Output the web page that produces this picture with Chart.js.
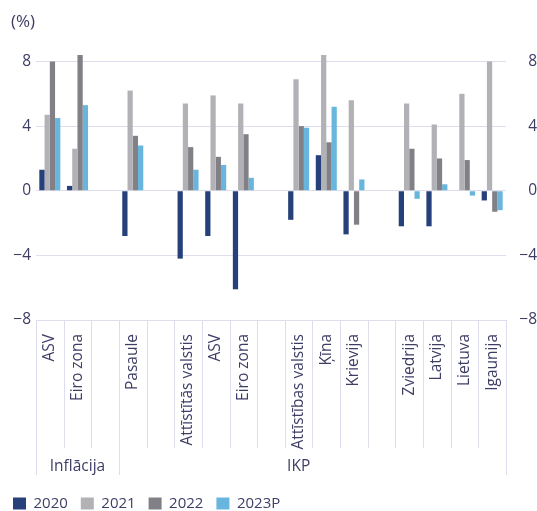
<!DOCTYPE html>
<html>
<head>
<meta charset="utf-8">
<script src="https://cdn.jsdelivr.net/npm/chart.js@4/dist/chart.umd.min.js"></script>
<style>
  html, body { margin: 0; padding: 0; background: #ffffff; }
  #wrap { width: 537px; height: 511px; position: relative; }
</style>
</head>
<body>
<div id="wrap"><canvas id="c" width="537" height="511"></canvas></div>
<script>
// ---- data ----
const categories = ['ASV', 'Eiro zona', '', 'Pasaule', '', 'Attīstītās valstis', 'ASV', 'Eiro zona', '',
  'Attīstības valstis', 'Ķīna', 'Krievija', '', 'Zviedrija', 'Latvija', 'Lietuva', 'Igaunija'];
const seriesNames = ['2020', '2021', '2022', '2023P'];
const values2020  = [1.3, 0.3, null, -2.8, null, -4.2, -2.8, -6.1, null, -1.8, 2.2, -2.7, null, -2.2, -2.2, 0, -0.6];
const values2021  = [4.7, 2.6, null,  6.2, null,  5.4,  5.9,  5.4, null,  6.9, 8.4,  5.6, null,  5.4,  4.1, 6.0, 8.0];
const values2022  = [8.0, 8.4, null,  3.4, null,  2.7,  2.1,  3.5, null,  4.0, 3.0, -2.1, null,  2.6,  2.0, 1.9, -1.3];
const values2023P = [4.5, 5.3, null,  2.8, null,  1.3,  1.6,  0.8, null,  3.9, 5.2,  0.7, null, -0.5,  0.4, -0.3, -1.2];
const tickValues = [-8, -4, 0, 4, 8];
const tickLabels = ['−8', '−4', '0', '4', '8'];
const groupNames = ['Inflācija', 'IKP'];
const groupFrom  = [0, 3];
const groupTo    = [2, 16];
const groupLabelAt = [1, 9];
const unitLabel = '(%)';

// ---- styles ----
const colors = ['#26407a', '#b2b2b6', '#808086', '#68b6de'];
const textColor = '#3d3d66';
const gridColor = '#dedded';
const fontFamily = "'Open Sans', 'Noto Sans', sans-serif";

const datasets = [values2020, values2021, values2022, values2023P].map((vals, i) => ({
  label: seriesNames[i],
  data: vals,
  backgroundColor: colors[i],
  borderWidth: 0,
  categoryPercentage: 0.76,
  barPercentage: 1.0,
  clip: false
}));

const axisGroupsPlugin = {
  id: 'axisGroups',
  afterDraw(chart) {
    const xs = chart.scales.x;
    const ctx = chart.ctx;
    const top = chart.chartArea.bottom;
    ctx.save();
    ctx.strokeStyle = gridColor;
    ctx.lineWidth = 1;
    for (let i = 0; i <= categories.length; i++) {
      const x = Math.round(xs.getPixelForValue(i - 0.5)) + 0.5;
      const edge = groupFrom.includes(i) || groupTo.some(t => t + 1 === i);
      ctx.beginPath();
      ctx.moveTo(x, top);
      ctx.lineTo(x, top + (edge ? 155 : 128));
      ctx.stroke();
    }
    ctx.fillStyle = textColor;
    ctx.font = "15.5px " + fontFamily;
    ctx.textAlign = 'center';
    ctx.textBaseline = 'middle';
    groupNames.forEach((name, g) => {
      ctx.fillText(name, xs.getPixelForValue(groupLabelAt[g]), top + 147);
    });
    ctx.textAlign = 'left';
    ctx.font = "17px " + fontFamily;
    ctx.fillText(unitLabel, 11, 22);
    ctx.restore();
  }
};

const yTicks = {
  color: textColor,
  font: { size: 15.5, family: fontFamily },
  callback: (v) => tickLabels[tickValues.indexOf(v)]
};

new Chart(document.getElementById('c'), {
  type: 'bar',
  data: { labels: categories, datasets },
  plugins: [axisGroupsPlugin],
  options: {
    responsive: false,
    animation: false,
    layout: { padding: { top: 61.5, bottom: -10, left: 0, right: 0 } },
    plugins: {
      tooltip: { enabled: false },
      legend: {
        position: 'bottom',
        align: 'start',
        labels: {
          color: textColor,
          font: { size: 15, family: fontFamily },
          boxWidth: 13,
          boxHeight: 12,
          padding: 13
        }
      }
    },
    scales: {
      x: {
        grid: { display: false },
        border: { display: false },
        ticks: {
          autoSkip: false,
          minRotation: 90,
          maxRotation: 90,
          padding: 6,
          color: textColor,
          font: { size: 15.5, family: fontFamily }
        },
        afterFit: (s) => { s.height = 163; }
      },
      y: {
        position: 'left',
        min: -8, max: 8,
        grid: { color: gridColor, drawTicks: false, lineWidth: 1 },
        border: { display: false },
        ticks: Object.assign({ padding: 5 }, yTicks),
        afterBuildTicks: (s) => { s.ticks = tickValues.map(v => ({ value: v })); },
        afterFit: (s) => { s.width = 36; }
      },
      y2: {
        position: 'right',
        min: -8, max: 8,
        grid: { display: false, drawTicks: false },
        border: { display: false },
        ticks: Object.assign({ padding: 13, crossAlign: 'far' }, yTicks),
        afterBuildTicks: (s) => { s.ticks = tickValues.map(v => ({ value: v })); },
        afterFit: (s) => { s.width = 31; }
      }
    }
  }
});
</script>
</body>
</html>
